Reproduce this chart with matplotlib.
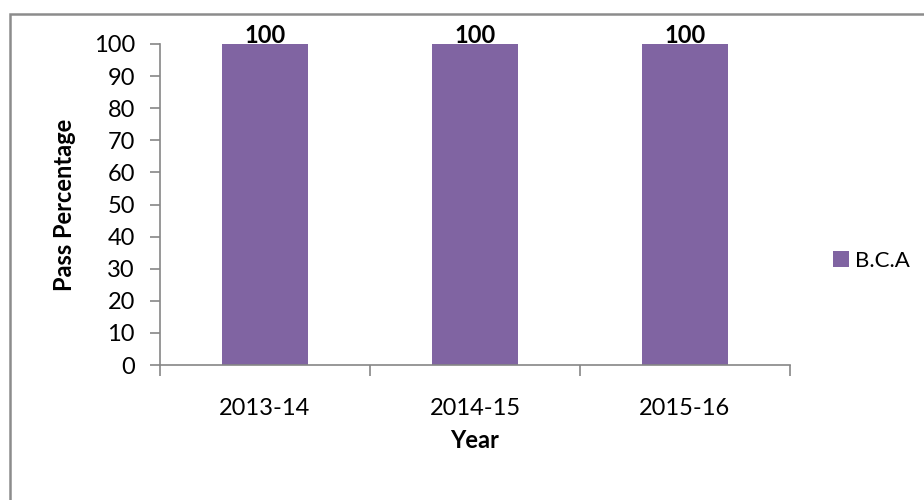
import matplotlib.pyplot as plt
from matplotlib.patches import Rectangle

# Данные
years = ['2013-14', '2014-15', '2015-16']
pass_pct = [100, 100, 100]
series_name = 'B.C.A'

plt.rcParams['font.family'] = ['Lato', 'DejaVu Sans']
axis_gray = '#868686'
bar_color = '#8064A2'
fs = 17

fig = plt.figure(figsize=(9.24, 5), dpi=100)
ax = fig.add_axes([160 / 924, 135 / 500, 630 / 924, 321 / 500])

x = range(len(years))
bars = ax.bar(x, pass_pct, width=0.405, color=bar_color, label=series_name, zorder=2)

for b, v in zip(bars, pass_pct):
    ax.text(b.get_x() + b.get_width() / 2, v - 0.8, str(v), ha='center', va='bottom',
            fontsize=fs, fontweight='bold', clip_on=False)

ax.set_xlim(-0.5, len(years) - 0.5)
ax.set_ylim(0, 100)
ax.set_yticks(range(0, 101, 10))
ax.set_xticks(list(x))
ax.set_xticklabels(years)
ax.set_xticks([i + 0.5 for i in range(-1, len(years))], minor=True)
ax.tick_params(axis='x', which='major', length=0, pad=24, labelsize=fs)
ax.tick_params(axis='x', which='minor', length=8, color=axis_gray, width=1.2)
ax.tick_params(axis='y', length=7, color=axis_gray, width=1.2, labelsize=fs, pad=11)

for s in ['top', 'right']:
    ax.spines[s].set_visible(False)
for s in ['left', 'bottom']:
    ax.spines[s].set_color(axis_gray)
    ax.spines[s].set_linewidth(1.2)

fig.text(65 / 924, 1 - 205 / 500, 'Pass Percentage', rotation=90, ha='center', va='center',
         fontsize=fs, fontweight='bold')
fig.text(475 / 924, 1 - 440 / 500, 'Year', ha='center', va='center',
         fontsize=fs, fontweight='bold')

fig.legend(handles=[bars], labels=[series_name], loc='center left',
           bbox_to_anchor=(833 / 924, 1 - 261 / 500), frameon=False, fontsize=16,
           borderaxespad=0, borderpad=0,
           handlelength=0.7, handleheight=0.7, handletextpad=0.3)

# Рамка вокруг диаграммы
fig.patches.append(Rectangle((10 / 924, -0.1), 1.2, 1 - 14 / 500 + 0.1, transform=fig.transFigure,
                             fill=False, edgecolor='#8c8c8c', linewidth=1.8))

fig.savefig('out.png', dpi=100)
